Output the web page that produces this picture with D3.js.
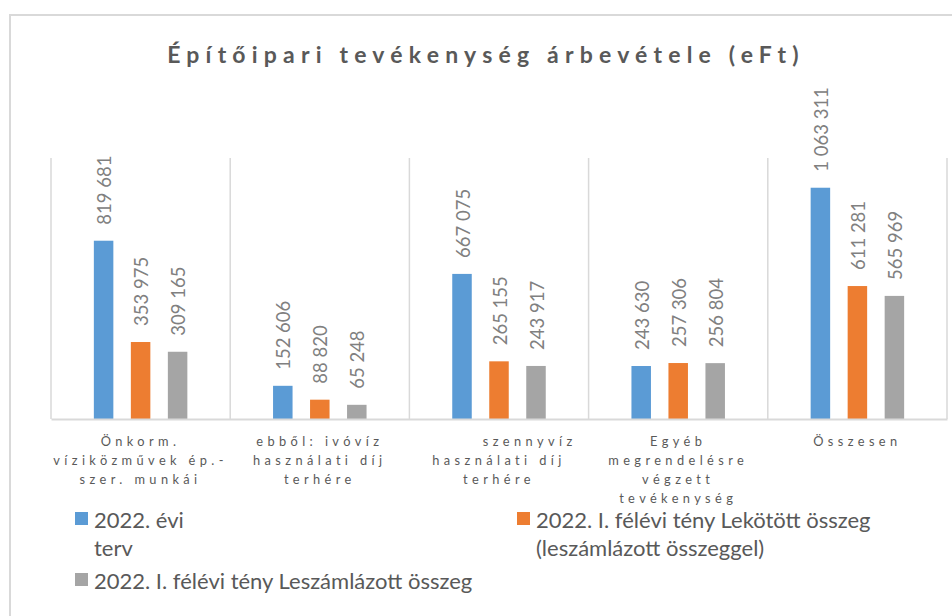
<!DOCTYPE html>
<html>
<head>
<meta charset="utf-8">
<script src="https://cdn.jsdelivr.net/npm/d3@7"></script>
<style>
  html, body { margin: 0; padding: 0; background: #fff; }
  svg { display: block; }
  text { font-family: Lato, "Open Sans", sans-serif; }
</style>
</head>
<body>
<svg id="chart" width="952" height="616"></svg>
<script>
// ---- data ----
const title = "Építőipari tevékenység árbevétele (eFt)";
const categories = [
  ["Önkorm.", "víziközművek ép.-", "szer. munkái"],
  ["ebből: ivóvíz", "használati díj", "terhére"],
  ["\u00a0\u00a0\u00a0\u00a0\u00a0\u00a0\u00a0\u00a0szennyvíz", "használati díj", "terhére"],
  ["Egyéb", "megrendelésre", "végzett", "tevékenység"],
  ["Összesen"]
];
const seriesNames = [
  ["2022. évi", "terv"],
  ["2022. I. félévi tény Lekötött összeg", "(leszámlázott összeggel)"],
  ["2022. I. félévi tény Leszámlázott összeg"]
];
const seriesColors = ["#5B9BD5", "#ED7D31", "#A5A5A5"];
const terv      = [819681, 152606, 667075, 243630, 1063311];
const lekotott  = [353975, 88820, 265155, 257306, 611281];
const leszamlaz = [309165, 65248, 243917, 256804, 565969];
const series = [terv, lekotott, leszamlaz];
const yMax = 1200000;

// ---- layout ----
const svg = d3.select("#chart");
const plot = { left: 51, right: 947, top: 158, bottom: 419 };
const textColor = "#595959";
const gridColor = "#d9d9d9";

// chart border
svg.append("rect")
  .attr("x", 10).attr("y", 15).attr("width", 980).attr("height", 640)
  .attr("fill", "#fff").attr("stroke", gridColor).attr("stroke-width", 2);

// title
svg.append("text")
  .attr("x", 486).attr("y", 63)
  .attr("text-anchor", "middle")
  .attr("font-size", 23).attr("font-weight", 700)
  .attr("letter-spacing", "6.2px")
  .attr("fill", textColor)
  .text(title);

const idx = d3.range(categories.length);
const x0 = d3.scaleBand().domain(idx).range([plot.left, plot.right]).padding(0);
const bw = x0.bandwidth();
const x1 = d3.scaleBand().domain(d3.range(series.length))
  .range([bw / 2 - 46.75, bw / 2 + 46.75]).paddingInner(0.473).paddingOuter(0);
const y = d3.scaleLinear().domain([0, yMax]).range([plot.bottom, plot.top]);

// vertical category gridlines
const bounds = idx.map(i => x0(i)).concat([plot.right]);
svg.append("g").selectAll("line").data(bounds).join("line")
  .attr("x1", d => d).attr("x2", d => d)
  .attr("y1", plot.top).attr("y2", plot.bottom)
  .attr("stroke", gridColor).attr("stroke-width", 1.5);

// bars
const gBars = svg.append("g");
series.forEach((vals, s) => {
  gBars.append("g").selectAll("rect").data(vals).join("rect")
    .attr("x", (d, i) => x0(i) + x1(s))
    .attr("y", d => y(d))
    .attr("width", x1.bandwidth())
    .attr("height", d => y(0) - y(d))
    .attr("fill", seriesColors[s]);
});

// baseline axis
const xAxis = d3.axisBottom(x0).tickSize(0).tickFormat("");
const axG = svg.append("g").attr("transform", `translate(0,${plot.bottom})`).call(xAxis);
axG.select(".domain").attr("stroke", gridColor).attr("stroke-width", 2);

// data labels
const fmt = v => d3.format(",")(v).replace(/,/g, " ");
series.forEach((vals, s) => {
  svg.append("g").selectAll("text").data(vals).join("text")
    .attr("transform", (d, i) => `translate(${x0(i) + x1(s) + x1.bandwidth() / 2 + 1},${y(d) - 16}) rotate(-90)`)
    .attr("dy", "0.36em")
    .attr("text-anchor", "start")
    .attr("font-size", 18.5)
    .attr("font-weight", 400)
    .attr("fill", "#808080")
    .text(d => fmt(d));
});

// category labels
const catG = svg.append("g");
categories.forEach((lines, i) => {
  const t = catG.append("text")
    .attr("x", x0(i) + bw / 2)
    .attr("y", 446)
    .attr("text-anchor", "middle")
    .attr("font-size", 12.8)
    .attr("letter-spacing", "4.4px")
    .attr("fill", textColor)
    .style("white-space", "pre");
  lines.forEach((ln, k) => {
    t.append("tspan").attr("x", x0(i) + bw / 2).attr("dy", k === 0 ? 0 : 19).text(ln);
  });
});

// legend
const legendPos = [[75, 512], [517, 512], [75, 573]];
seriesNames.forEach((lines, s) => {
  const [lx, ly] = legendPos[s];
  svg.append("rect").attr("x", lx).attr("y", ly).attr("width", 13).attr("height", 13)
    .attr("fill", seriesColors[s]);
  const t = svg.append("text")
    .attr("x", lx + 19).attr("y", ly + 15.5)
    .attr("font-size", 22)
    .attr("fill", textColor);
  lines.forEach((ln, k) => {
    t.append("tspan").attr("x", lx + 19).attr("dy", k === 0 ? 0 : 28).text(ln);
  });
});
</script>
</body>
</html>
